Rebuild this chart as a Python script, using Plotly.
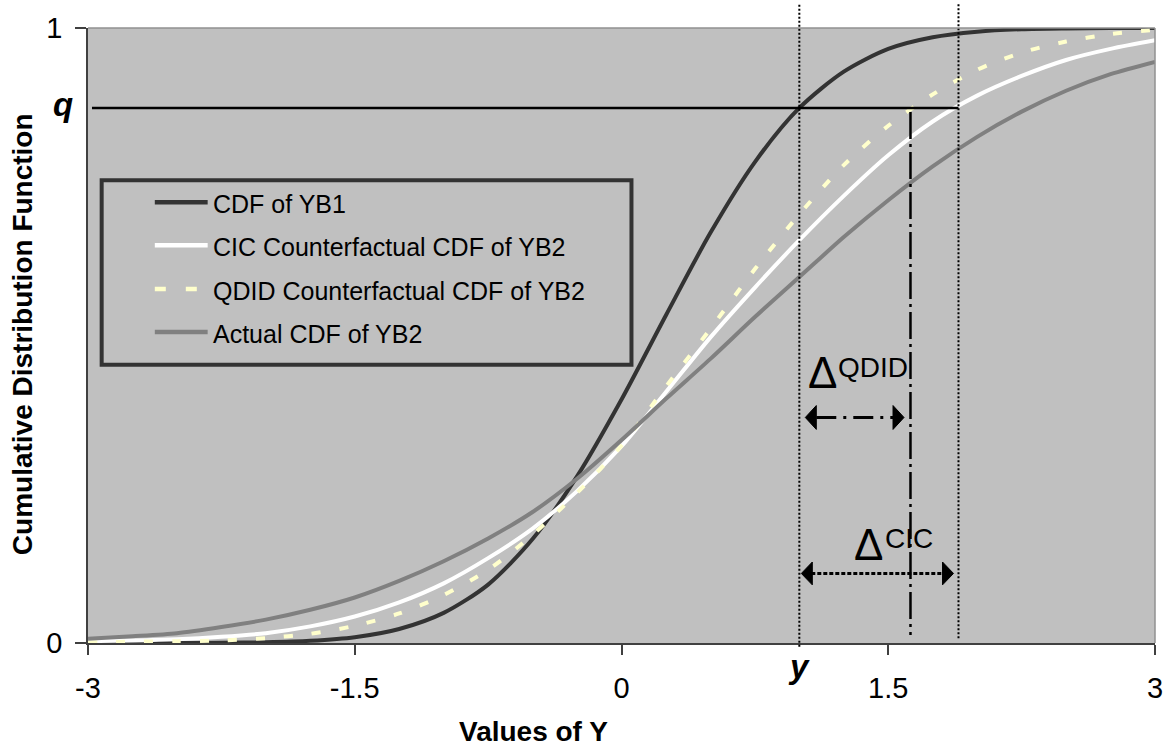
import plotly.graph_objects as go

# ---------------- data ----------------
x_values = [-3.0, -2.75, -2.5, -2.25, -2.0, -1.75, -1.5, -1.25, -1.0, -0.75, -0.5, -0.25,
            0.0, 0.25, 0.5, 0.75, 1.0, 1.25, 1.5, 1.75, 2.0, 2.25, 2.5, 2.75, 3.0]
cdf_yb1 = [0.0, 0.0, 0.0001, 0.0003, 0.0012, 0.0036, 0.0094, 0.0228, 0.049, 0.095, 0.169, 0.271,
           0.396, 0.533, 0.667, 0.782, 0.870, 0.929, 0.966, 0.985, 0.994, 0.998, 0.9993, 0.9998, 1.0]
cdf_cic = [0.003, 0.004, 0.006, 0.010, 0.016, 0.027, 0.043, 0.066, 0.097, 0.138, 0.186, 0.247,
           0.320, 0.408, 0.497, 0.578, 0.655, 0.727, 0.793, 0.848, 0.890, 0.922, 0.948, 0.966, 0.980]
cdf_qdid = [0.001, 0.002, 0.003, 0.004, 0.008, 0.015, 0.028, 0.048, 0.078, 0.119, 0.176, 0.244,
            0.321, 0.417, 0.511, 0.608, 0.697, 0.777, 0.841, 0.892, 0.932, 0.960, 0.978, 0.990, 0.997]
cdf_actual = [0.007, 0.011, 0.016, 0.026, 0.038, 0.054, 0.074, 0.101, 0.133, 0.170, 0.213, 0.267,
              0.330, 0.397, 0.462, 0.530, 0.595, 0.660, 0.720, 0.775, 0.823, 0.864, 0.898, 0.925, 0.945]

series_names = ["CDF of YB1", "CIC Counterfactual CDF of YB2",
                "QDID Counterfactual CDF of YB2", "Actual CDF of YB2"]
x_tick_values = [-3, -1.5, 0, 1.5, 3]
x_tick_labels = ["-3", "-1.5", "0", "1.5", "3"]
y_tick_values = [0, 1]
y_tick_labels = ["0", "1"]

q_level = 0.87      # quantile q
y_point = 1.0       # value y
x_qdid = 1.625      # QDID counterfactual quantile
x_cic = 1.895       # CIC counterfactual quantile

# ---------------- styles ----------------
FONT = "Liberation Sans, Arial, sans-serif"
colors = ["#333333", "#ffffff", "#ffffcc", "#808080"]
dashes = ["solid", "solid", "9px,19px", "solid"]
widths = [4, 4, 4, 4]

W, H = 1175, 747
ML, MR, MT, MB = 88, 17, 24, 104
PW, PH = W - ML - MR, H - MT - MB
PX_X = 6.0 / PW      # data units per pixel (x)
PX_Y = 1.0 / PH      # data units per pixel (y)

series = [cdf_yb1, cdf_cic, cdf_qdid, cdf_actual]

fig = go.Figure()
for name, vals, c, d, w in zip(series_names, series, colors, dashes, widths):
    fig.add_trace(go.Scatter(x=x_values, y=vals, mode="lines", name=name,
                             line=dict(color=c, width=w, dash=d, shape="spline", smoothing=0.8),
                             showlegend=False, hoverinfo="skip"))


def head(x_tip, y, direction, length=11, half=12):
    xb = x_tip - direction * length * PX_X
    return (f"M {x_tip},{y} L {xb},{y + half * PX_Y} "
            f"L {xb},{y - half * PX_Y} Z")


shapes = []
# horizontal q line
shapes.append(dict(type="line", xref="x", yref="y", x0=-3 + 4 * PX_X, x1=x_cic,
                   y0=q_level, y1=q_level, line=dict(color="black", width=2.5)))
# vertical dotted lines at y and CIC quantile
shapes.append(dict(type="line", xref="x", yref="paper", x0=y_point, x1=y_point,
                   y0=-0.006, y1=1 + MT / PH, line=dict(color="black", width=2, dash="2px,2px")))
shapes.append(dict(type="line", xref="x", yref="paper", x0=x_cic, x1=x_cic,
                   y0=0.0076, y1=1 + MT / PH, line=dict(color="black", width=2, dash="2px,2px")))
# dash-dot vertical at QDID quantile
shapes.append(dict(type="line", xref="x", yref="y", x0=x_qdid, x1=x_qdid,
                   y0=q_level - 4 * PX_Y, y1=0.013,
                   line=dict(color="black", width=2.5, dash="27px,5px,3px,5px")))

# Delta QDID arrow
yq = 0.3667
lt, rt = y_point + 6 * PX_X, x_qdid - 6.5 * PX_X
shapes.append(dict(type="line", xref="x", yref="y", x0=lt + 11 * PX_X, x1=rt - 11 * PX_X,
                   y0=yq, y1=yq, line=dict(color="black", width=3, dash="20px,7px,3px,7px")))
shapes.append(dict(type="path", xref="x", yref="y", path=head(lt, yq, -1),
                   fillcolor="black", line=dict(color="black", width=1)))
shapes.append(dict(type="path", xref="x", yref="y", path=head(rt, yq, 1),
                   fillcolor="black", line=dict(color="black", width=1)))

# Delta CIC arrow
yc = 0.1131
lt, rt = y_point + 2 * PX_X, x_cic - 5 * PX_X
shapes.append(dict(type="line", xref="x", yref="y", x0=lt + 10 * PX_X, x1=rt - 10 * PX_X,
                   y0=yc, y1=yc, line=dict(color="black", width=3, dash="4px,2px")))
shapes.append(dict(type="path", xref="x", yref="y", path=head(lt, yc, -1, 11, 11.5),
                   fillcolor="black", line=dict(color="black", width=1)))
shapes.append(dict(type="path", xref="x", yref="y", path=head(rt, yc, 1, 11, 11.5),
                   fillcolor="black", line=dict(color="black", width=1)))

# plot border (top, right)
shapes.append(dict(type="line", xref="paper", yref="paper", x0=0, x1=1, y0=1, y1=1,
                   line=dict(color="#909090", width=1.5)))
shapes.append(dict(type="line", xref="paper", yref="paper", x0=1, x1=1, y0=0, y1=1,
                   line=dict(color="#909090", width=1.5)))


def px2px(px):
    return (px - ML) / PW


def py2py(py):
    return (MT + PH - py) / PH


# legend box
shapes.append(dict(type="rect", xref="paper", yref="paper",
                   x0=px2px(101.7), x1=px2px(633), y0=py2py(363), y1=py2py(177.3),
                   line=dict(color="#333333", width=4)))
legend_rows = [199.3, 242.7, 286.7, 330.0]
annotations = []
for name, c, d, row in zip(series_names, colors, dashes, legend_rows):
    shapes.append(dict(type="line", xref="paper", yref="paper",
                       x0=px2px(155), x1=px2px(208), y0=py2py(row), y1=py2py(row),
                       line=dict(color=c, width=4.5, dash=("11px,20px" if d != "solid" else "solid"))))
    annotations.append(dict(text=name, xref="paper", yref="paper", x=px2px(211), y=py2py(row + 2),
                            xanchor="left", yanchor="middle", showarrow=False,
                            font=dict(family=FONT, size=25, color="black")))

# delta labels
annotations += [
    dict(text="\u0394", x=y_point + 7 * PX_X, y=0.4354 + 3 * PX_Y, xref="x", yref="y", xanchor="left",
         yanchor="middle", showarrow=False, font=dict(family=FONT, size=44, color="black")),
    dict(text="QDID", x=y_point + 37 * PX_X, y=0.4475, xref="x", yref="y", xanchor="left",
         yanchor="middle", showarrow=False, font=dict(family=FONT, size=28, color="black")),
    dict(text="\u0394", x=y_point + 53 * PX_X, y=0.1570 + 2 * PX_Y, xref="x", yref="y", xanchor="left",
         yanchor="middle", showarrow=False, font=dict(family=FONT, size=44, color="black")),
    dict(text="CIC", x=y_point + 84 * PX_X, y=0.1704, xref="x", yref="y", xanchor="left",
         yanchor="middle", showarrow=False, font=dict(family=FONT, size=28, color="black")),
    # q and y labels
    dict(text="<b><i>q</i></b>", xref="paper", yref="y", x=px2px(63), y=q_level,
         xanchor="center", yanchor="middle", yshift=3, showarrow=False,
         font=dict(family=FONT, size=33, color="black")),
    dict(text="<b><i>y</i></b>", xref="x", yref="paper", x=y_point, y=py2py(667),
         xanchor="center", yanchor="middle", showarrow=False,
         font=dict(family=FONT, size=33, color="black")),
    # axis titles
    dict(text="<b>Values of Y</b>", xref="paper", yref="paper", x=px2px(535), y=py2py(732),
         xanchor="center", yanchor="middle", showarrow=False,
         font=dict(family=FONT, size=28, color="black")),
    dict(text="<b>Cumulative Distribution Function</b>", xref="paper", yref="paper",
         x=px2px(22), y=py2py(332), xanchor="center", yanchor="middle", textangle=-90,
         showarrow=False, font=dict(family=FONT, size=28, color="black")),
]

fig.update_layout(
    width=W, height=H,
    margin=dict(l=ML, r=MR, t=MT, b=MB, pad=0),
    paper_bgcolor="white", plot_bgcolor="#c0c0c0",
    showlegend=False,
    shapes=shapes, annotations=annotations,
    font=dict(family=FONT, size=29, color="black"),
    xaxis=dict(range=[-3, 3], tickmode="array", tickvals=x_tick_values, ticktext=x_tick_labels,
               showgrid=False, zeroline=False, showline=True, linecolor="#404040", linewidth=2,
               ticks="outside", ticklen=10, tickwidth=1.5, tickcolor="#404040",
               ticklabelstandoff=8, tickfont=dict(family=FONT, size=29, color="black")),
    yaxis=dict(range=[0, 1], tickmode="array", tickvals=y_tick_values, ticktext=y_tick_labels,
               showgrid=False, zeroline=False, showline=True, linecolor="#404040", linewidth=1.5,
               ticks="outside", ticklen=11, tickwidth=1.5, tickcolor="#404040",
               ticklabelstandoff=7, tickfont=dict(family=FONT, size=29, color="black")),
)

fig.write_html("out.html", config={"displayModeBar": False},
               post_script="document.body.style.margin='0px';")
